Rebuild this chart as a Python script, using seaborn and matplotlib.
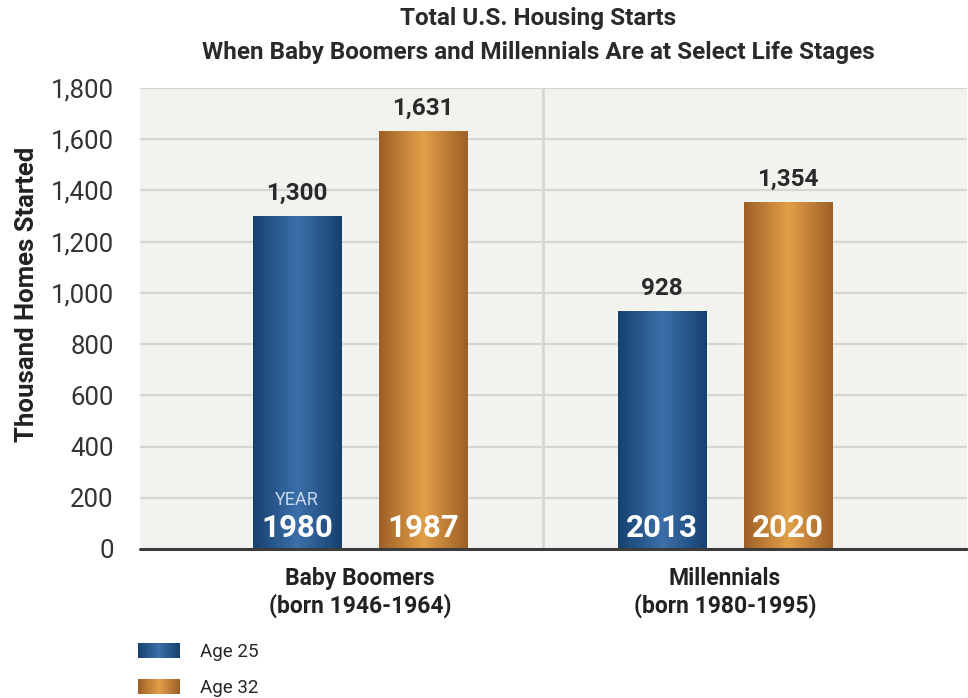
import numpy as np
import pandas as pd
import matplotlib
matplotlib.use("Agg")
import matplotlib.pyplot as plt
import matplotlib.colors as mcolors
from matplotlib.patches import Patch, Rectangle
from matplotlib.legend_handler import HandlerBase
from matplotlib.ticker import FuncFormatter
import seaborn as sns

# Data
generations = ["Baby Boomers\n(born 1946-1964)", "Millennials\n(born 1980-1995)"]
ages = ["Age 25", "Age 32"]
starts_age25 = [1300, 928]
starts_age32 = [1631, 1354]
years_age25 = [1980, 2013]
years_age32 = [1987, 2020]

df = pd.DataFrame({
    "generation": generations * 2,
    "age": [ages[0]] * 2 + [ages[1]] * 2,
    "starts": starts_age25 + starts_age32,
    "year": years_age25 + years_age32,
})

sns.set_theme(style="white")
plt.rcParams["font.family"] = ["Roboto", "DejaVu Sans"]

BLUE = ["#16416f", "#3c70aa", "#16416f"]
ORANGE = ["#9e5f26", "#e2a048", "#9e5f26"]
palette = {ages[0]: "#2a5b91", ages[1]: "#c98438"}
stops_for = {ages[0]: BLUE, ages[1]: ORANGE}


def gradient_cmap(stops):
    return mcolors.LinearSegmentedColormap.from_list("g", stops)


fig = plt.figure(figsize=(9.68, 6.98), dpi=100)
ax = fig.add_axes([0.1446, 0.2135, 0.8544, 0.6605])
ax.set_facecolor("#f2f2ee")

sns.barplot(data=df, x="generation", y="starts", hue="age", order=generations,
            hue_order=ages, palette=palette, width=0.69, gap=0.30,
            legend=False, ax=ax, saturation=1, errorbar=None)

# gradient fill clipped to each bar
grad = np.linspace(0, 1, 256).reshape(1, -1)
for patch in list(ax.patches):
    fc = mcolors.to_hex(patch.get_facecolor())
    stops = BLUE if fc == palette[ages[0]] else ORANGE
    x0, y0 = patch.get_x(), patch.get_y()
    w, h = patch.get_width(), patch.get_height()
    im = ax.imshow(grad, cmap=gradient_cmap(stops), aspect="auto",
                   extent=[x0, x0 + w, y0, y0 + h], zorder=patch.get_zorder() + 0.1)
    im.set_clip_path(patch)
ax.set_xlim(-0.603, 1.663)
ax.set_ylim(0, 1800)

# grid, divider and baseline
ax.set_yticks(np.arange(0, 1801, 200))
ax.yaxis.set_major_formatter(FuncFormatter(lambda v, p: f"{v:,.0f}"))
for y in np.arange(200, 1801, 200):
    ax.axhline(y, color="#d5d5d1", lw=1.6, zorder=0.5)
ax.axvline(0.5, color="#d5d5d1", lw=2.0, zorder=0.5)
ax.axhline(0, color="#3c3c3c", lw=2.2, zorder=5, clip_on=False)
for s in ax.spines.values():
    s.set_visible(False)

ax.tick_params(axis="y", length=0, pad=19, labelsize=18.5, labelcolor="#333333")
ax.tick_params(axis="x", length=0, pad=13)
ax.set_xticks([0, 1])
ax.set_xticklabels(generations, fontsize=16.5, fontweight="bold", color="#222222",
                   linespacing=1.2)
ax.set_xlabel("")
ax.set_ylabel("Thousand Homes Started", fontsize=18.5, fontweight="bold",
              color="#222222")
ax.yaxis.set_label_coords(-0.122, 0.553)

# value and year labels
bar_patches = sorted(ax.patches, key=lambda p: p.get_x())
values = [starts_age25[0], starts_age32[0], starts_age25[1], starts_age32[1]]
years = [years_age25[0], years_age32[0], years_age25[1], years_age32[1]]
for i, (p, v, yr) in enumerate(zip(bar_patches, values, years)):
    cx = p.get_x() + p.get_width() / 2
    ax.annotate(f"{v:,}", (cx, v), xytext=(0, 8), textcoords="offset points",
                ha="center", va="bottom", fontsize=17.5, fontweight="bold",
                color="#2a2a2a")
    ax.text(cx, 80, str(yr), ha="center", va="center", fontsize=22.5,
            fontweight="bold", color="white", zorder=6)
    if i == 0:
        ax.text(cx, 192, "YEAR", ha="center", va="center", fontsize=13,
                color="#c9d8ec", zorder=6)

fig.text(0.556, 0.973, "Total U.S. Housing Starts", ha="center", va="center",
         fontsize=17.5, fontweight="bold", color="#2a2a2a")
fig.text(0.556, 0.925, "When Baby Boomers and Millennials Are at Select Life Stages",
         ha="center", va="center", fontsize=17.5, fontweight="bold", color="#2a2a2a")


class GradientHandler(HandlerBase):
    """Legend key drawn as thin vertical strips following the bar gradient."""

    def __init__(self, stops, n=40):
        super().__init__()
        self.cmap = gradient_cmap(stops)
        self.n = n

    def create_artists(self, legend, orig_handle, xdescent, ydescent,
                       width, height, fontsize, trans):
        strips = []
        sw = width / self.n
        for k in range(self.n):
            r = Rectangle((-xdescent + k * sw, -ydescent), sw * 1.05, height,
                          facecolor=self.cmap(k / (self.n - 1)), edgecolor="none",
                          transform=trans)
            strips.append(r)
        return strips


handles = [Patch(facecolor=palette[a], edgecolor="none") for a in ages]
handler_map = {h: GradientHandler(stops_for[a]) for h, a in zip(handles, ages)}
fig.legend(handles, ages, loc="upper left", bbox_to_anchor=(0.1425, 0.079),
           frameon=False, fontsize=13.5, handlelength=2.24, handleheight=0.85,
           handletextpad=1.07, labelspacing=0.95, borderaxespad=0, borderpad=0,
           handler_map=handler_map)

fig.savefig("out.png", dpi=100, facecolor="white")
